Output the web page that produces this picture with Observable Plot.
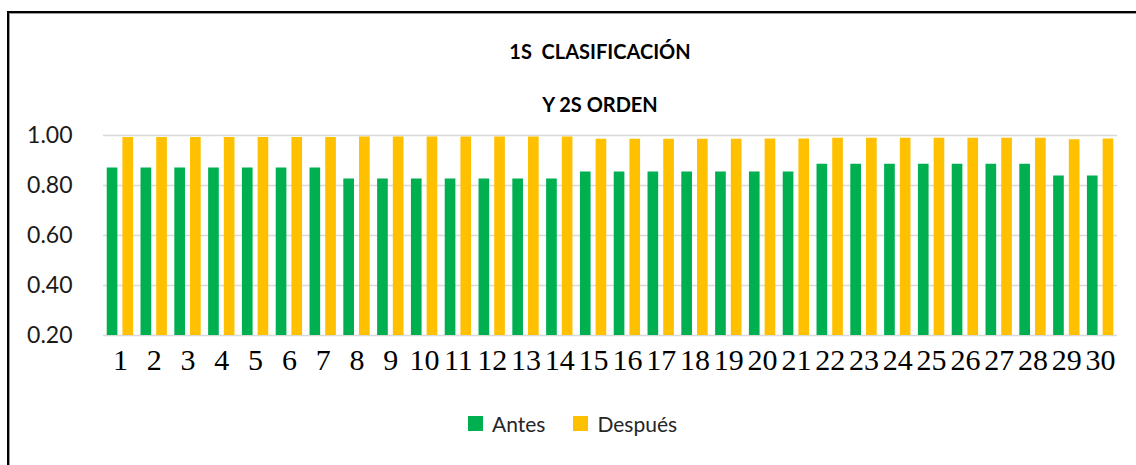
<!DOCTYPE html>
<html>
<head>
<meta charset="utf-8">
<script src="https://cdn.jsdelivr.net/npm/d3@7"></script>
<script src="https://cdn.jsdelivr.net/npm/@observablehq/plot@0.6"></script>
<style>
  html, body { margin: 0; padding: 0; background: #fff; }
  body { width: 1136px; height: 465px; position: relative; overflow: hidden; }
  .frame { position: absolute; left: 7px; top: 11px; width: 1200px; height: 500px;
           border-top: 2px solid #000; border-left: 2px solid #000;
           box-shadow: inset 1px 1px 0 #9a9a9a; }
  .title { position: absolute; left: 0; width: 1200px; text-align: center;
           font-family: Lato, sans-serif; font-weight: 700; font-size: 20px;
           line-height: 20px; color: #000; white-space: pre; }
  #chart { position: absolute; left: 0; top: 115px; }
  .legend { position: absolute; left: 468px; top: 413px; display: flex;
            font-family: Lato, sans-serif; font-size: 21px; line-height: 21px; color: #262626; }
  .item { display: inline-flex; align-items: center; margin-right: 28px; }
  .sw { width: 15px; height: 15px; margin-right: 9px; display: inline-block; }
</style>
</head>
<body>
<div class="frame"></div>
<div class="title" id="t1" style="top:41px"></div>
<div class="title" id="t2" style="top:94px"></div>
<div id="chart"></div>
<div class="legend" id="legend"></div>
<script>
const titleLines = ["1S  CLASIFICACIÓN", "Y 2S ORDEN"];
const categories = ["1","2","3","4","5","6","7","8","9","10","11","12","13","14","15",
                    "16","17","18","19","20","21","22","23","24","25","26","27","28","29","30"];
const series = ["Antes", "Después"];
const colors = ["#00B050", "#FFC000"];
const antes = [0.870,0.870,0.870,0.870,0.870,0.870,0.870,
               0.826,0.826,0.826,0.826,0.826,0.826,0.826,
               0.854,0.854,0.854,0.854,0.854,0.854,0.854,
               0.885,0.885,0.885,0.885,0.885,0.885,0.885,
               0.838,0.838];
const despues = [0.992,0.992,0.992,0.992,0.992,0.992,0.992,
                 0.994,0.994,0.994,0.994,0.994,0.994,0.994,
                 0.985,0.985,0.985,0.985,0.985,0.986,0.986,
                 0.989,0.989,0.989,0.989,0.989,0.989,0.989,
                 0.983,0.986];
const yTicks = [0.2, 0.4, 0.6, 0.8, 1.0];

document.getElementById("t1").textContent = titleLines[0];
document.getElementById("t2").textContent = titleLines[1];

const rowsA = categories.map((c, i) => ({cat: c, v: antes[i]}));
const rowsD = categories.map((c, i) => ({cat: c, v: despues[i]}));

const barW = 10.7;
const bandW = 26.4;
const plot = Plot.plot({
  width: 1136,
  height: 270,
  marginTop: 20,
  marginBottom: 50,
  marginLeft: 103,
  marginRight: 19,
  style: {background: "transparent", overflow: "visible"},
  x: {domain: categories, paddingInner: 0.22, paddingOuter: 0.11, round: false},
  y: {domain: [0.2, 1.0]},
  marks: [
    Plot.ruleY(yTicks, {stroke: "#d9d9d9", strokeWidth: 1.6}),
    Plot.barY(rowsA, {x: "cat", y1: 0.2, y2: "v", fill: colors[0],
      insetRight: bandW - barW}),
    Plot.barY(rowsD, {x: "cat", y1: 0.2, y2: "v", fill: colors[1],
      insetLeft: bandW - barW}),
    Plot.axisY(yTicks, {tickSize: 0, tickPadding: 31, tickFormat: d3.format(".2f"),
      fontSize: 23, fontFamily: "Lato, sans-serif", fill: "#1a1a1a", label: null}),
    Plot.axisX({tickSize: 0, tickPadding: 13, fontSize: 30,
      fontFamily: "'Liberation Serif', serif", fill: "#000", label: null})
  ]
});
document.getElementById("chart").appendChild(plot);

const legend = document.getElementById("legend");
series.forEach((s, i) => {
  const item = document.createElement("span");
  item.className = "item";
  const sw = document.createElement("span");
  sw.className = "sw";
  sw.style.background = colors[i];
  item.appendChild(sw);
  item.appendChild(document.createTextNode(s));
  legend.appendChild(item);
});
</script>
</body>
</html>
